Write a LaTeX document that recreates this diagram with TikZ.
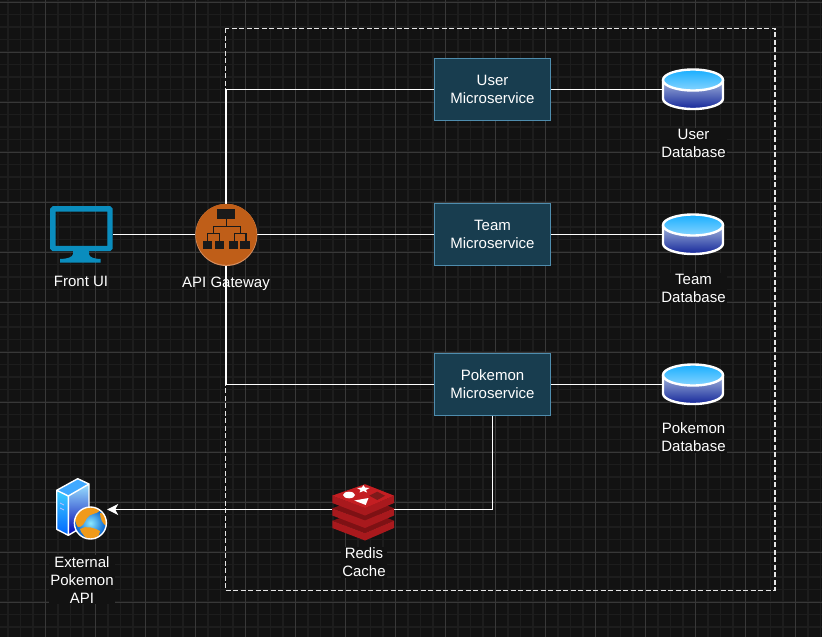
\documentclass[tikz,border=0pt]{standalone}
\usepackage{fontspec}
\setmainfont{Liberation Sans}
\usetikzlibrary{arrows.meta}
\definecolor{canvasbg}{HTML}{121212}
\definecolor{minorgrid}{HTML}{1D1D1D}
\definecolor{majorgrid}{HTML}{383838}
\definecolor{servicefill}{HTML}{183D4F}
\definecolor{serviceline}{HTML}{4F8DAE}
\definecolor{monitorblue}{HTML}{0A8DBE}
\definecolor{gatewayorange}{HTML}{BF5E18}
\definecolor{gatewayedge}{HTML}{D98F5F}
\definecolor{iconblack}{HTML}{1A1A1A}
\definecolor{redistop}{HTML}{C41E22}
\definecolor{redisside}{HTML}{A9191D}
\definecolor{redisgap}{HTML}{7E1114}
\definecolor{redishole}{HTML}{7E1A1A}
\definecolor{globeland}{HTML}{F09A1A}
\definecolor{dbtoptop}{HTML}{18AEFF}
\definecolor{dbtopbottom}{HTML}{86D4FF}
\definecolor{dbbodytop}{HTML}{A3B6DC}
\definecolor{dbbodybottom}{HTML}{14269A}
\tikzset{
  minorline/.style={line width=1.4pt,minorgrid},
  majorline/.style={line width=1pt,majorgrid},
  link/.style={line width=1.25pt,white},
  service/.style={draw=serviceline,fill=servicefill,line width=1.2pt,minimum width=116pt,minimum height=62pt,text=white,align=center,inner sep=0pt},
  caption/.style={text=white,align=center,inner sep=1pt},
  captionbg/.style={caption,fill=canvasbg},
  iconbox/.style={minimum width=#1,minimum height=41pt,inner sep=0pt},
  dbicon/.pic={
    \shade[top color=dbbodytop,bottom color=dbbodybottom] (-30,-9.5) -- (-30,9) arc (180:0:30 and 10.5) -- (30,-9.5) -- cycle;
    \draw[white,line width=2.4pt] (-30,-9.5) -- (-30,9) arc (180:0:30 and 10.5) -- (30,-9.5);
    \shade[top color=dbtoptop,bottom color=dbtopbottom,draw=white,line width=2.4pt] (0,-9.5) ellipse (30 and 10.5);
  },
}
\begin{document}
\begin{tikzpicture}[x=1pt,y=-1pt]
  \fontsize{15}{18}\selectfont
  \useasboundingbox (0,0) rectangle (822,637);
  \fill[canvasbg] (0,0) rectangle (822,637);

  % Drawing grid
  \foreach \gx in {8,20.5,...,822} {\draw[minorline] (\gx,0) -- (\gx,637);}
  \foreach \gy in {2,14.5,...,637} {\draw[minorline] (0,\gy) -- (822,\gy);}
  \foreach \gx in {45.5,95.5,...,822} {\draw[majorline] (\gx,0) -- (\gx,637);}
  \foreach \gy in {2,52,...,637} {\draw[majorline] (0,\gy) -- (822,\gy);}

  % Drawing dashed boundary
  \draw[white!90!black,line width=1.6pt,dash pattern=on 5pt off 2.5pt] (225.3,28.3) rectangle (775,590.5);

  % Placing services
  \node (userService) [service] at (492.5,89.5) {User\\Microservice};
  \node (teamService) [service] at (492.5,234.5) {Team\\Microservice};
  \node (pokemonService) [service] at (492.5,384.5) {Pokemon\\Microservice};

  % Placing icon holders
  \node (frontUi) [iconbox=63pt,minimum height=57pt] at (81.5,234.5) {};
  \node (gateway) [circle,minimum size=62pt,inner sep=0pt] at (226,234.5) {};
  \node (userDb) [iconbox=61pt] at (693,89.5) {};
  \node (teamDb) [iconbox=61pt] at (693,234.5) {};
  \node (pokemonDb) [iconbox=61pt] at (693,384.5) {};
  \node (redis) [iconbox=62pt,minimum height=52pt] at (363,509.5) {};
  \node (externalApi) [iconbox=54pt,minimum height=62pt] at (80,509.5) {};

  % Drawing connectors
  \draw[link] (frontUi) -- (gateway);
  \draw[link] (gateway) -- (teamService);
  \draw[link] (gateway.center) |- (userService);
  \draw[link] (gateway.center) |- (pokemonService);
  \draw[link] (userService) -- (userDb);
  \draw[link] (teamService) -- (teamDb);
  \draw[link] (pokemonService) -- (pokemonDb);
  \draw[link] (pokemonService) |- (redis);
  \draw[link,-{Stealth[length=11pt,width=11pt,inset=3pt]}] (redis) -- (externalApi);

  % Drawing monitor
  \draw[monitorblue,line width=5.4pt,rounded corners=1pt] (52.8,208.8) rectangle (110,248.5);
  \fill[monitorblue] (73,251) -- (89,251) -- (89,254) .. controls (89,257) and (94,259) .. (100.7,259) -- (100.7,262.7) -- (60,262.7) -- (60,259) .. controls (67,259) and (73,257) .. (73,254) -- cycle;

  % Drawing gateway
  \fill[gatewayedge] (226.3,235) circle (31);
  \fill[gatewayorange] (226.3,234.3) circle (30.5);
  \fill[iconblack] (217.3,209.3) rectangle (235.3,219.3);
  \draw[iconblack,line width=1.5pt] (226.3,219) -- (226.3,226.5) (213.3,233.5) -- (213.3,226.5) -- (240.3,226.5) -- (240.3,233.5)
    (207.3,240.7) -- (207.3,233.5) -- (219.3,233.5) -- (219.3,240.7) (234.3,240.7) -- (234.3,233.5) -- (245.8,233.5) -- (245.8,240.7);
  \foreach \bx in {202.7,214.7,228.7,240.3} {\fill[iconblack] (\bx,240.7) rectangle ++(9.2,8.7);}

  % Drawing databases
  \pic at (userDb) {dbicon};
  \pic at (teamDb) {dbicon};
  \pic at (pokemonDb) {dbicon};

  % Drawing redis stack
  \foreach \ly in {25,12.5,0} {
    \fill[redisgap] (332.3,495.7+\ly) -- (365,484.3+\ly) -- (394,495.7+\ly) -- (365,508+\ly) -- cycle;
    \fill[redisside] (332.3,495.7+\ly) -- (365,508+\ly) -- (394,495.7+\ly) -- (394,503+\ly) -- (365,515.5+\ly) -- (332.3,503+\ly) -- cycle;
  }
  \fill[redistop] (332.3,495.7) -- (365,484.3) -- (394,495.7) -- (365,508) -- cycle;
  \fill[redishole] (369.3,495.7) -- (377.3,491.7) -- (385,495.7) -- (377.3,500) -- cycle;
  \fill[white] (349,495) ellipse (6 and 3.3);
  \fill[white] (354.3,500.5) -- (368.5,498) -- (365.7,505) -- cycle;
  \fill[white] (363.5,485.2) -- (365,487.5) -- (369.5,488) -- (366,490) -- (367,492.5) -- (363.5,491) -- (359.5,492.5) -- (360.5,490) -- (357,488) -- (361.8,487.5) -- cycle;

  % Drawing server
  \shade[top color=blue!25!cyan!75!white,bottom color=blue!60!cyan] (56.7,490.3) -- (68.3,496) -- (68.3,535.3) -- (56.7,529.3) -- cycle;
  \shade[top color=blue!30!cyan!40!white,bottom color=blue!70!black] (68.3,496) -- (89,484) -- (89,523) -- (68.3,535.3) -- cycle;
  \fill[blue!45!cyan!75!white] (56.7,490.3) -- (77.7,478.7) -- (89,484) -- (68.3,496) -- cycle;
  \draw[white,line width=1.4pt,line join=round] (68.3,496) -- (56.7,490.3) -- (77.7,478.7) -- (89,484) -- (68.3,496) -- (68.3,535.3) -- (56.7,529.3) -- (56.7,490.3) (89,484) -- (89,523) -- (68.3,535.3);
  \draw[white!75!blue,line width=.8pt] (60,503) -- (64,505) (60,508) -- (64,510);

  % Drawing globe
  \shade[inner color=blue!20!cyan!45!white,outer color=blue!55!cyan!80!black] (90.4,523) circle (16);
  \begin{scope}
    \clip (90.4,523) circle (16);
    \fill[globeland] (74,516) .. controls (78,504) and (94,503) .. (101,510) .. controls (96,515) and (90,513) .. (87,518) .. controls (85,522) and (82,528) .. (78,527) .. controls (76,525) and (75,520) .. (74,516) -- cycle;
    \fill[globeland] (80,529) .. controls (86,525) and (95,528) .. (100,531) .. controls (100,537) and (93,542) .. (87,541) .. controls (86,536) and (81,534) .. (80,529) -- cycle;
    \fill[globeland] (100,513) .. controls (104,512) and (108,518) .. (107,526) .. controls (103,525) and (100,519) .. (100,513) -- cycle;
  \end{scope}
  \draw[white,line width=1.4pt] (90.4,523) circle (16);

  % Marking captions
  \node (frontUiText) [caption] at (81,281.2) {Front UI};
  \node (gatewayText) [caption] at (226,283.5) {API Gateway};
  \node (userDbText) [captionbg] at (693.5,143.2) {User\\Database};
  \node (teamDbText) [captionbg] at (693.5,288.2) {Team\\Database};
  \node (pokemonDbText) [captionbg] at (693.5,437.2) {Pokemon\\Database};
  \node (redisText) [captionbg] at (364,562.2) {Redis\\Cache};
  \node (externalApiText) [captionbg] at (82,579.7) {External\\Pokemon\\API};
\end{tikzpicture}
\end{document}
